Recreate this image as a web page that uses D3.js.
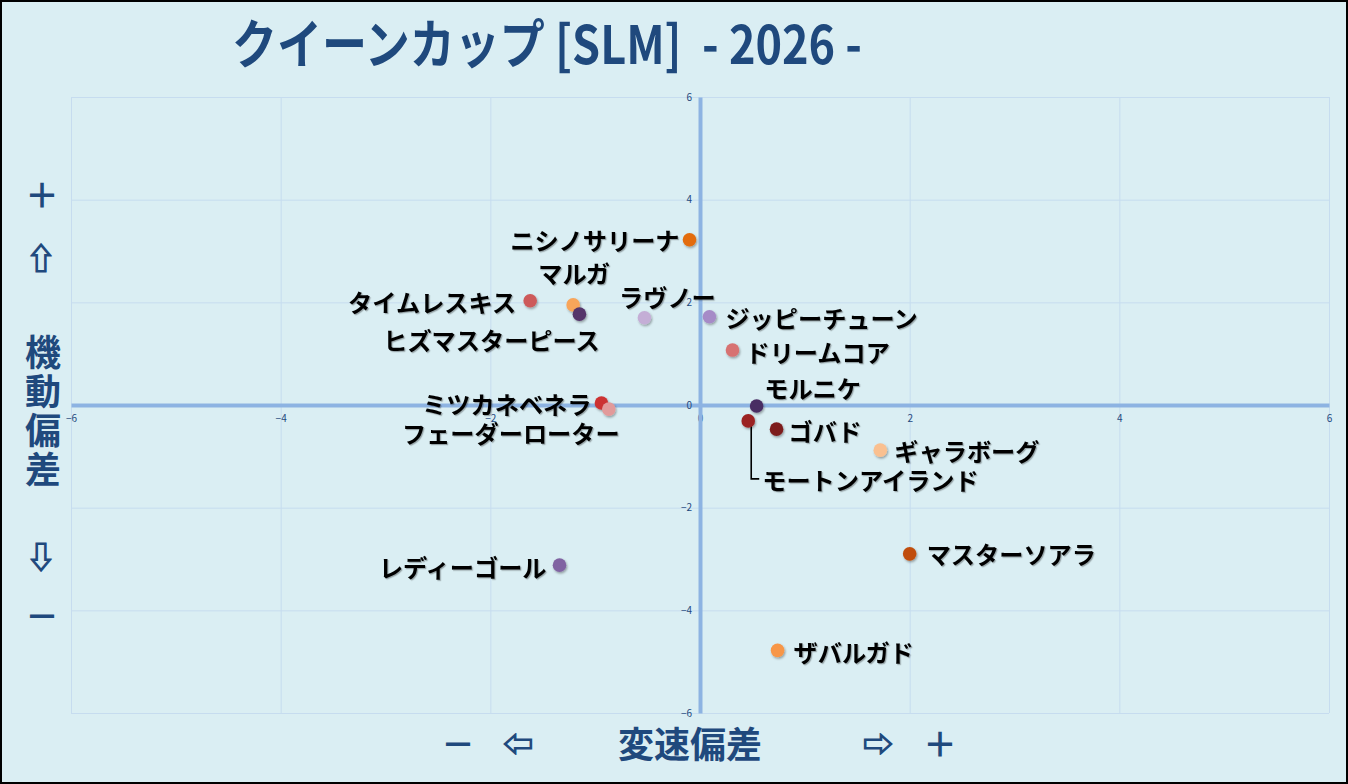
<!DOCTYPE html>
<html>
<head>
<meta charset="utf-8">
<script src="https://cdn.jsdelivr.net/npm/d3@7"></script>
<style>
  html, body { margin: 0; padding: 0; background: #fff; }
  svg { display: block; }
</style>
</head>
<body>
<div id="chart"></div>
<script>
// horse names, 変速偏差 (x) and 機動偏差 (y)
var names = ["ニシノサリーナ", "マルガ", "タイムレスキス", "ヒズマスターピース", "ラヴノー",
  "ジッピーチューン", "ドリームコア", "モルニケ", "ミツカネベネラ", "フェーダーローター",
  "モートンアイランド", "ゴバド", "ギャラボーグ", "マスターソアラ", "ザバルガド", "レディーゴール"];
var speedDev = [-0.10, -1.21, -1.62, -1.15, -0.53, 0.09, 0.31, 0.54, -0.94, -0.87,
  0.46, 0.73, 1.72, 2.00, 0.74, -1.34];
var mobilityDev = [3.22, 1.95, 2.03, 1.77, 1.70, 1.72, 1.07, -0.02, 0.04, -0.08,
  -0.31, -0.47, -0.88, -2.90, -4.78, -3.12];
var dotColors = ["#e36c09", "#f8a55a", "#cd5a5a", "#54346a", "#c4aed6", "#a68bc7", "#d77272",
  "#4a2d64", "#cc3333", "#e29a9a", "#9b2424", "#7d1e1e", "#fac090", "#c04d0a", "#f79646", "#8064a2"];
var ticks = [-6, -4, -2, 0, 2, 4, 6];

// label placement (pixel offsets from each dot)
var labelPos = [
  {dx: -10, dy: 0, a: "end"}, {dx: 1, dy: -32, a: "middle"}, {dx: -14, dy: 1, a: "end"},
  {dx: -88, dy: 25, a: "middle"}, {dx: 23, dy: -21, a: "middle"}, {dx: 16, dy: 1, a: "start"},
  {dx: 13, dy: 1, a: "start"}, {dx: 56, dy: -19, a: "middle"}, {dx: -10, dy: 1, a: "end"},
  {dx: -98, dy: 23, a: "middle"}, {dx: 14, dy: 59, a: "start"}, {dx: 12, dy: 1, a: "start"},
  {dx: 14, dy: 0, a: "start"}, {dx: 17, dy: 0, a: "start"}, {dx: 16, dy: 1, a: "start"},
  {dx: -13, dy: 1, a: "end"}
];

var points = names.map(function(n, i) {
  return {name: n, x: speedDev[i], y: mobilityDev[i], color: dotColors[i], lab: labelPos[i]};
});

var width = 1348, height = 784;
var navy = "#1f497d";
var jp = "'Noto Sans CJK JP', 'Noto Sans', sans-serif";

var svg = d3.select("#chart").append("svg")
  .attr("width", width)
  .attr("height", height);

var defs = svg.append("defs");
var sh = defs.append("filter").attr("id", "shadow")
  .attr("x", "-30%").attr("y", "-30%").attr("width", "160%").attr("height", "160%");
sh.append("feDropShadow").attr("dx", 1).attr("dy", 1.5).attr("stdDeviation", 1)
  .attr("flood-color", "#000").attr("flood-opacity", 0.35);
var tsh = defs.append("filter").attr("id", "tshadow");
tsh.append("feDropShadow").attr("dx", 1.2).attr("dy", 1.2).attr("stdDeviation", 0.6)
  .attr("flood-color", "#000").attr("flood-opacity", 0.3);

// background + frame
svg.append("rect")
  .attr("x", 1).attr("y", 1)
  .attr("width", width - 2).attr("height", height - 2)
  .attr("fill", "#daeef3")
  .attr("stroke", "#000").attr("stroke-width", 2);

var x = d3.scaleLinear().domain([-6, 6]).range([71, 1329]);
var y = d3.scaleLinear().domain([-6, 6]).range([713, 97]);

// gridlines
var grid = svg.append("g").attr("class", "grid");
grid.append("g")
  .attr("transform", "translate(0," + y(-6) + ")")
  .call(d3.axisBottom(x).tickValues(ticks).tickSize(-(y(-6) - y(6))).tickFormat(""))
  .call(function(g) {
    g.select(".domain").remove();
    g.selectAll("line").attr("stroke", "#c6dcef").attr("stroke-width", 1);
  });
grid.append("g")
  .attr("transform", "translate(" + x(-6) + ",0)")
  .call(d3.axisLeft(y).tickValues(ticks).tickSize(-(x(6) - x(-6))).tickFormat(""))
  .call(function(g) {
    g.select(".domain").remove();
    g.selectAll("line").attr("stroke", "#c6dcef").attr("stroke-width", 1);
  });

// main axes through zero
var xAxis = svg.append("g")
  .attr("transform", "translate(0," + y(0) + ")")
  .call(d3.axisBottom(x).tickValues(ticks).tickSize(0).tickPadding(10));
xAxis.select(".domain").attr("stroke", "#8db3e2").attr("stroke-width", 4);
xAxis.selectAll("text").attr("fill", navy).attr("font-size", 10).attr("font-family", jp);

var yAxis = svg.append("g")
  .attr("transform", "translate(" + x(0) + ",0)")
  .call(d3.axisLeft(y).tickValues(ticks).tickSize(0).tickPadding(8));
yAxis.select(".domain").attr("stroke", "#8db3e2").attr("stroke-width", 4);
yAxis.selectAll("text").attr("fill", navy).attr("font-size", 10).attr("font-family", jp);

// leader line for モートンアイランド
var mi = names.indexOf("モートンアイランド");
var mp = points[mi];
svg.append("path")
  .attr("d", "M" + (x(mp.x) + 3) + "," + y(mp.y) + "V" + (y(mp.y) + mp.lab.dy - 1) + "h8")
  .attr("fill", "none").attr("stroke", "#000").attr("stroke-width", 1.6);

// dots
svg.append("g").selectAll("circle")
  .data(points)
  .enter().append("circle")
  .attr("cx", function(d) { return x(d.x); })
  .attr("cy", function(d) { return y(d.y); })
  .attr("r", 6.8)
  .attr("fill", function(d) { return d.color; })
  .attr("filter", "url(#shadow)");

// labels
svg.append("g").selectAll("text")
  .data(points)
  .enter().append("text")
  .attr("x", function(d) { return x(d.x) + d.lab.dx; })
  .attr("y", function(d) { return y(d.y) + d.lab.dy; })
  .attr("text-anchor", function(d) { return d.lab.a; })
  .attr("dominant-baseline", "central")
  .attr("font-family", jp)
  .attr("font-weight", "bold")
  .attr("font-size", 24.2)
  .attr("fill", "#000")
  .attr("filter", "url(#tshadow)")
  .text(function(d) { return d.name; });

// title
svg.append("text")
  .attr("x", 232).attr("y", 64)
  .attr("textLength", 630)
  .attr("lengthAdjust", "spacingAndGlyphs")
  .attr("font-family", jp)
  .attr("font-weight", "bold")
  .attr("font-size", 53)
  .attr("fill", navy)
  .style("white-space", "pre")
  .text("クイーンカップ [SLM]  - 2026 -");

// x axis title
var bottom = svg.append("g")
  .attr("font-family", jp).attr("font-weight", "bold")
  .attr("fill", navy).attr("text-anchor", "middle").attr("dominant-baseline", "central");
bottom.append("text").attr("x", 458).attr("y", 742).attr("font-size", 34).text("－");
bottom.append("text").attr("x", 518).attr("y", 742).attr("font-size", 30)
  .attr("stroke", navy).attr("stroke-width", 1.2).text("⇦");
bottom.append("text").attr("x", 690).attr("y", 742).attr("font-size", 36).text("変速偏差");
bottom.append("text").attr("x", 878).attr("y", 742).attr("font-size", 30)
  .attr("stroke", navy).attr("stroke-width", 1.2).text("⇨");
bottom.append("text").attr("x", 940).attr("y", 742).attr("font-size", 34).text("＋");

// y axis title (stacked)
var left = svg.append("g")
  .attr("font-family", jp).attr("font-weight", "bold")
  .attr("fill", navy).attr("text-anchor", "middle").attr("dominant-baseline", "central");
left.append("text").attr("x", 42).attr("y", 193).attr("font-size", 34).text("＋");
left.append("text").attr("x", 41).attr("y", 256).attr("font-size", 30)
  .attr("stroke", navy).attr("stroke-width", 1.2).text("⇧");
["機", "動", "偏", "差"].forEach(function(c, i) {
  left.append("text").attr("x", 43).attr("y", 350 + i * 39).attr("font-size", 36).text(c);
});
left.append("text").attr("x", 41).attr("y", 555).attr("font-size", 30)
  .attr("stroke", navy).attr("stroke-width", 1.2).text("⇩");
left.append("text").attr("x", 42).attr("y", 614).attr("font-size", 34).text("－");
</script>
</body>
</html>
